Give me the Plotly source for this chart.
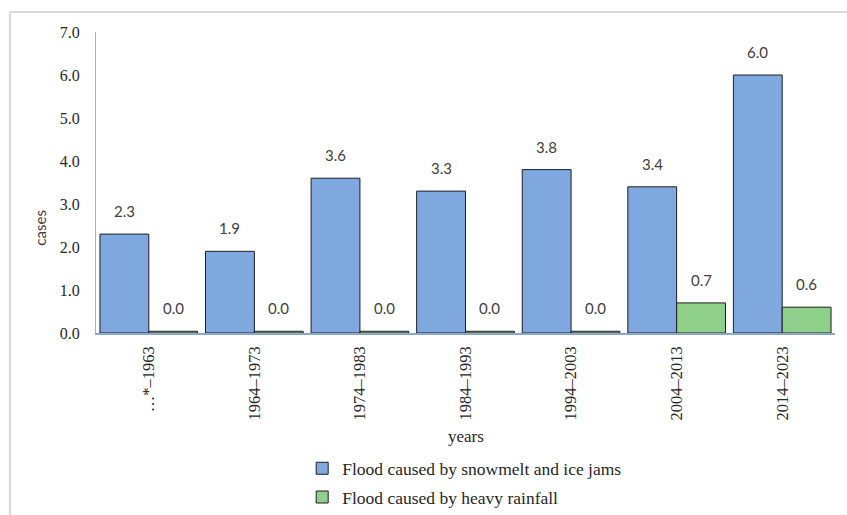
import plotly.graph_objects as go

# Flood cases per decade by cause
periods = ["…*–1963", "1964–1973", "1974–1983", "1984–1993", "1994–2003", "2004–2013", "2014–2023"]
snowmelt_ice = [2.3, 1.9, 3.6, 3.3, 3.8, 3.4, 6.0]
heavy_rain = [0.04, 0.04, 0.04, 0.04, 0.04, 0.7, 0.6]
y_ticks = [0, 1, 2, 3, 4, 5, 6, 7]

BLUE = "#7EA8DE"
GREEN = "#8FD08A"
EDGE = "#1E1E1E"
SERIF = "Liberation Serif"
LABEL_FONT = dict(family="Lato", size=15, color="#404040")

BARGAP = 0.075
bar_w = (1 - BARGAP) / 2
idx = list(range(len(periods)))

fig = go.Figure()
fig.add_trace(go.Bar(
    x=idx, y=snowmelt_ice, name="Flood caused by snowmelt and ice jams",
    legendgroup="snow",
    marker=dict(color=BLUE, line=dict(color=EDGE, width=1)),
))
fig.add_trace(go.Bar(
    x=idx, y=heavy_rain, name="Flood caused by heavy rainfall",
    legendgroup="rain",
    marker=dict(color=GREEN, line=dict(color=EDGE, width=1)),
))

# value labels above each bar
annotations = []
for series, shift in ((snowmelt_ice, -bar_w / 2), (heavy_rain, bar_w / 2)):
    for i, v in zip(idx, series):
        annotations.append(dict(
            x=i + shift, y=v, xref="x", yref="y", text=f"{v:.1f}",
            showarrow=False, yanchor="middle", yshift=23, font=LABEL_FONT,
        ))

# axis titles
annotations.append(dict(
    x=0.5, y=-0.3455, xref="paper", yref="paper", text="years",
    xanchor="center", yanchor="middle",
    showarrow=False, font=dict(family=SERIF, size=17, color="#262626"),
))
annotations.append(dict(
    x=-0.0758, y=0.35, xref="paper", yref="paper", text="cases", textangle=-90,
    xanchor="center", yanchor="middle",
    showarrow=False, font=dict(family="Lato", size=15, color="#404040"),
))

# outer chart frame (top and left edges visible)
frame = dict(type="line", xref="paper", yref="paper",
             line=dict(color="#D9D9D9", width=2))
shapes = [
    dict(frame, x0=-0.1164, x1=1.1, y0=1.0664, y1=1.0664),
    dict(frame, x0=-0.1164, x1=-0.1164, y0=1.0664, y1=-0.7),
]

fig.update_layout(
    width=847, height=515,
    margin=dict(l=96, r=12, t=32, b=182, autoexpand=False),
    paper_bgcolor="white", plot_bgcolor="white",
    barmode="group", bargap=BARGAP, bargroupgap=0,
    showlegend=True,
    legend=dict(
        x=0.279, y=-0.39, xanchor="left", yanchor="top",
        traceorder="grouped", tracegroupgap=3,
        font=dict(family=SERIF, size=17.5, color="#262626"),
        itemwidth=30,
    ),
    annotations=annotations,
    shapes=shapes,
)
fig.update_xaxes(
    tickvals=idx, ticktext=periods, tickangle=-90,
    range=[-0.5, len(periods) - 0.5],
    showline=True, linecolor="#8EA6CC", linewidth=1.5,
    ticks="", showgrid=False, zeroline=False, automargin=False,
    ticklabelstandoff=5,
    tickfont=dict(family=SERIF, size=16.5, color="#262626"),
)
fig.update_yaxes(
    range=[0, 7], tickvals=y_ticks, ticktext=[f"{t:.1f}" for t in y_ticks],
    showline=True, linecolor="#9DB3D3", linewidth=1.2,
    ticks="", showgrid=False, zeroline=False, automargin=False,
    ticklabelstandoff=12,
    tickfont=dict(family=SERIF, size=16, color="#262626"),
)

fig.write_html("out.html")
